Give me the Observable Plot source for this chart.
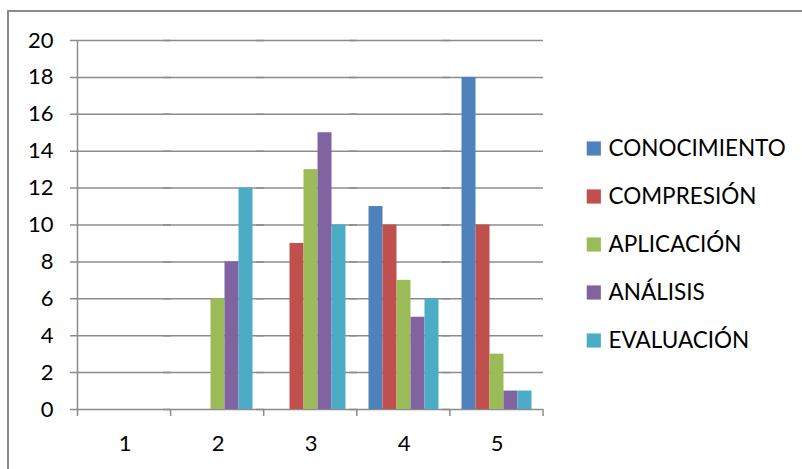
<!DOCTYPE html>
<html>
<head>
<meta charset="utf-8">
<script src="https://cdn.jsdelivr.net/npm/d3@7"></script>
<script src="https://cdn.jsdelivr.net/npm/@observablehq/plot@0.6"></script>
<style>
  html, body { margin: 0; padding: 0; background: #fff; }
  #wrap { position: relative; width: 802px; height: 469px; overflow: hidden; background: #fff; }
  #border { position: absolute; left: 7px; top: 10px; right: -10px; bottom: -10px;
            border-left: 2px solid #8a8a8a; border-top: 2px solid #8a8a8a; }
  #wrap svg { position: absolute; left: 0; top: 0; }
</style>
</head>
<body>
<div id="wrap"><div id="border"></div></div>
<script>
// Categories along the horizontal axis
const categories = ["1", "2", "3", "4", "5"];
// Series names, in legend order
const series = ["CONOCIMIENTO", "COMPRESIÓN", "APLICACIÓN", "ANÁLISIS", "EVALUACIÓN"];
// Values per series, one entry per category
const conocimiento = [0, 0, 0, 11, 18];
const compresion   = [0, 0, 9, 10, 10];
const aplicacion   = [0, 6, 13, 7, 3];
const analisis     = [0, 8, 15, 5, 1];
const evaluacion   = [0, 12, 10, 6, 1];
// Value axis ticks
const yTicks = [0, 2, 4, 6, 8, 10, 12, 14, 16, 18, 20];
const colors = ["#4F81BD", "#C0504D", "#9BBB59", "#8064A2", "#4BACC6"];

const seriesValues = [conocimiento, compresion, aplicacion, analisis, evaluacion];
const rows = categories.flatMap((c, i) =>
  series.map((s, j) => ({cat: c, series: s, value: seriesValues[j][i]}))
);

const font = {fontFamily: "Lato, 'Open Sans', sans-serif", fontSize: "22px", color: "#000", background: "transparent", overflow: "visible"};
const gridColor = "#8c8c8c";

const chart = Plot.plot({
  width: 802,
  height: 469,
  marginLeft: 77.5,
  marginRight: 259,
  marginTop: 40,
  marginBottom: 60,
  style: font,
  facet: {data: rows, x: "cat"},
  fx: {domain: categories, padding: 0, label: null, axis: "bottom", tickSize: 0, tickPadding: 26},
  x: {domain: series, paddingInner: 0, paddingOuter: 0.77, axis: null},
  y: {domain: [0, 20], ticks: yTicks, tickSize: 0, tickPadding: 25, label: null},
  color: {domain: series, range: colors},
  marks: [
    Plot.ruleY(yTicks, {stroke: gridColor, strokeWidth: 1.5, insetLeft: -8}),
    Plot.barY(rows, {x: "series", y: "value", fill: "series"})
  ]
});

// Category axis line and boundary ticks
const fxScale = chart.scale("fx");
const yScale = chart.scale("y");
const [fxStart, fxEnd] = fxScale.range;
const nCats = fxScale.domain.length;
const catStep = (fxEnd - fxStart) / nCats;
const yBase = yScale.range[0], yTop = yScale.range[1];
const axisG = d3.select(chart).append("g").attr("stroke", gridColor).attr("stroke-width", 1.5);
axisG.append("line").attr("x1", fxStart).attr("x2", fxStart).attr("y1", yTop).attr("y2", yBase + 7);
for (let i = 1; i <= nCats; i++) {
  const bx = fxStart + i * catStep;
  axisG.append("line").attr("x1", bx).attr("x2", bx).attr("y1", yBase).attr("y2", yBase + 7);
}

document.getElementById("wrap").appendChild(chart);

// Legend: swatches and series names stacked on the right
const legend = Plot.plot({
  width: 802,
  height: 469,
  margin: 0,
  style: {...font, fontSize: "22.5px"},
  x: {domain: [0, 1], range: [586, 800], axis: null},
  y: {type: "point", domain: series, range: [147.5, 341], padding: 0, axis: null},
  color: {domain: series, range: colors},
  marks: [
    Plot.dot(series, {x: () => 0, y: d => d, fill: d => d, symbol: "square", r: 8, dx: 7.3}),
    Plot.text(series, {x: () => 0, y: d => d, text: d => d, dx: 22, textAnchor: "start", fill: "#000"})
  ]
});
document.getElementById("wrap").appendChild(legend);
</script>
</body>
</html>
